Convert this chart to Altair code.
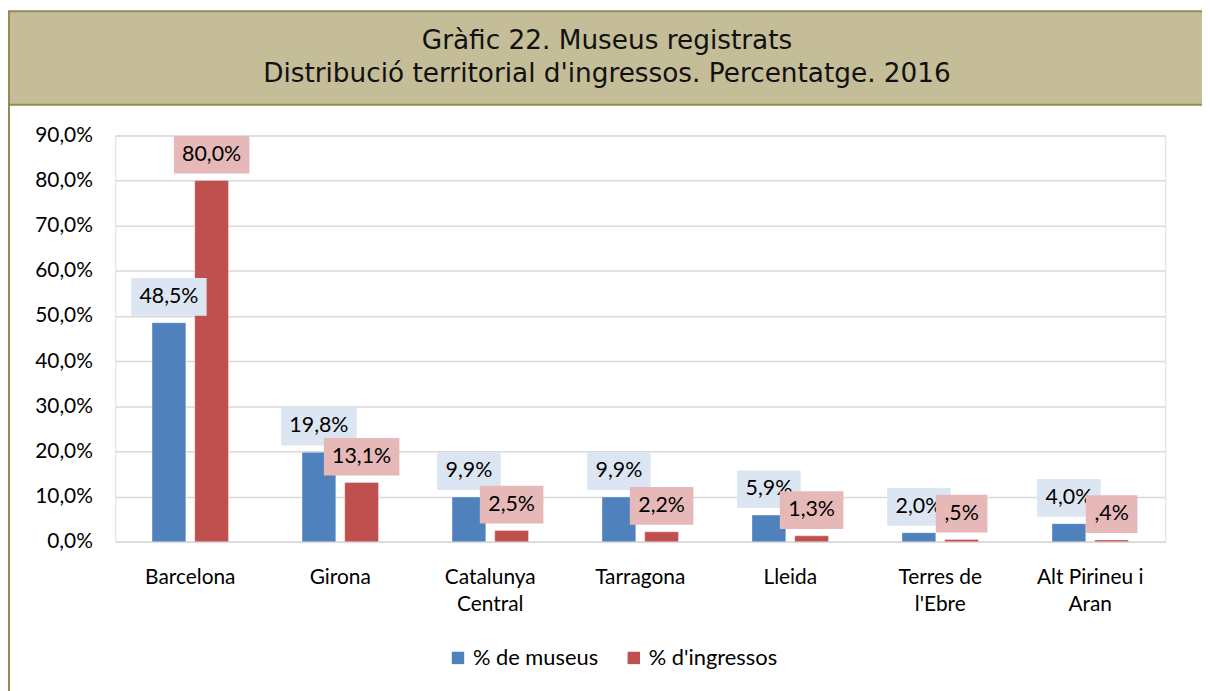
import altair as alt
import pandas as pd

categories = ["Barcelona", "Girona", "Catalunya Central", "Tarragona", "Lleida",
              "Terres de l'Ebre", "Alt Pirineu i Aran"]
museus = [48.5, 19.8, 9.9, 9.9, 5.9, 2.0, 4.0]
ingressos = [80.0, 13.1, 2.5, 2.2, 1.3, 0.5, 0.4]
series_names = ["% de museus", "% d'ingressos"]
y_ticks = [0, 10, 20, 30, 40, 50, 60, 70, 80, 90]
wrapped = {
    "Catalunya Central": ["Catalunya", "Central"],
    "Terres de l'Ebre": ["Terres de", "l'Ebre"],
    "Alt Pirineu i Aran": ["Alt Pirineu i", "Aran"],
}
title_line1 = "Gràfic 22. Museus registrats"
title_line2 = "Distribució territorial d'ingressos. Percentatge. 2016"

BLUE, RED = "#4F81BD", "#C0504D"
BLUE_BOX, RED_BOX = "#DCE6F2", "#E6B9B8"
FONT = "Lato"
TFONT = "DejaVu Sans"


def fmt(v):
    s = f"{v:.1f}".replace(".", ",")
    if s.startswith("0,"):
        s = s[1:]
    return s + "%"


rows = []
for c, m, i in zip(categories, museus, ingressos):
    rows.append({"cat": c, "series": series_names[0], "value": m, "label": fmt(m)})
    rows.append({"cat": c, "series": series_names[1], "value": i, "label": fmt(i)})
df = pd.DataFrame(rows)

label_expr = ""
for k, v in wrapped.items():
    arr = "[" + ",".join("'" + s.replace("'", "\\'") + "'" for s in v) + "]"
    kk = k.replace("'", "\\'")
    label_expr += f"datum.value == '{kk}' ? {arr} : "
label_expr += "datum.value"

x_enc = alt.X(
    "cat:N", sort=categories,
    scale=alt.Scale(paddingInner=0.49, paddingOuter=0.245),
    axis=alt.Axis(title=None, labelAngle=0, ticks=False, domain=True,
                  domainColor="#D9D9D9", domainWidth=1.5, grid=False,
                  labelFont=FONT, labelFontSize=21, labelColor="#000000",
                  labelPadding=25, labelLineHeight=27, labelExpr=label_expr,
                  labelBaseline="top"),
)
xo_enc = alt.XOffset("series:N", sort=series_names,
                     scale=alt.Scale(paddingInner=0.209, paddingOuter=0))
y_scale = alt.Scale(domain=[0, 90], nice=False, zero=True)

base = alt.Chart(df)

bars = base.mark_bar(stroke="#FFFFFF", strokeWidth=0.6, strokeOpacity=0.6).encode(
    x=x_enc,
    xOffset=xo_enc,
    y=alt.Y("value:Q", scale=y_scale,
            axis=alt.Axis(title=None, values=y_ticks, grid=True, gridColor="#D9D9D9",
                          gridWidth=1.5, domain=False, ticks=False, labelFont=FONT,
                          labelFontSize=21, labelColor="#000000", labelPadding=23,
                          labelExpr="replace(format(datum.value, '.1f'), '.', ',') + '%'")),
    color=alt.Color("series:N", sort=series_names,
                    scale=alt.Scale(domain=series_names, range=[BLUE, RED]),
                    legend=alt.Legend(title=None, orient="none", legendX=334, legendY=515,
                                      direction="horizontal", symbolType="square",
                                      symbolSize=156, symbolStrokeWidth=0,
                                      labelFont=FONT, labelFontSize=22,
                                      labelColor="#000000", labelOffset=4,
                                      columnPadding=24)),
)


def label_layers(series, fill):
    sub = base.transform_filter(alt.datum.series == series).transform_calculate(
        bw="length(datum.label) * 12 + 16")
    box = sub.mark_bar(yOffset=-7, y2Offset=-45, fill=fill).encode(
        x=x_enc, xOffset=xo_enc,
        y=alt.Y("value:Q", scale=y_scale),
        y2=alt.Y2("value:Q"),
        size=alt.Size("bw:Q", scale=None, legend=None),
    )
    txt = sub.mark_text(dy=-26, baseline="middle", align="center", font=FONT,
                        fontSize=21.5, color="#000000").encode(
        x=x_enc, xOffset=xo_enc,
        y=alt.Y("value:Q", scale=y_scale),
        text="label:N",
    )
    return [box, txt]


one = alt.Data(values=[{"a": 1}])
band = alt.Chart(one).mark_rect(fill="#C4BD97", stroke="#948A54", strokeWidth=2).encode(
    x=alt.value(-107), x2=alt.value(1100), y=alt.value(-125), y2=alt.value(-31))
border = alt.Chart(one).mark_rule(stroke="#948A54", strokeWidth=2).encode(
    x=alt.value(-107), y=alt.value(-31), y2=alt.value(560))
t1 = alt.Chart(one).mark_text(font=TFONT, fontSize=26.5, color="#111111",
                              baseline="middle", align="center").encode(
    x=alt.value(495), y=alt.value(-95), text=alt.value(title_line1))
t2 = alt.Chart(one).mark_text(font=TFONT, fontSize=26.5, color="#111111",
                              baseline="middle", align="center").encode(
    x=alt.value(495), y=alt.value(-62), text=alt.value(title_line2))

layers = [band, border, t1, t2, bars]
layers += label_layers(series_names[0], BLUE_BOX)
layers += label_layers(series_names[1], RED_BOX)

chart = alt.layer(*layers).properties(
    width=1057, height=409,
    autosize=alt.AutoSizeParams(type="none"),
    padding={"left": 108, "top": 126, "right": 37, "bottom": 148},
).configure_view(strokeWidth=0).configure(background="#FFFFFF")

chart.save("out.html", embed_options={"renderer": "svg", "actions": False})
